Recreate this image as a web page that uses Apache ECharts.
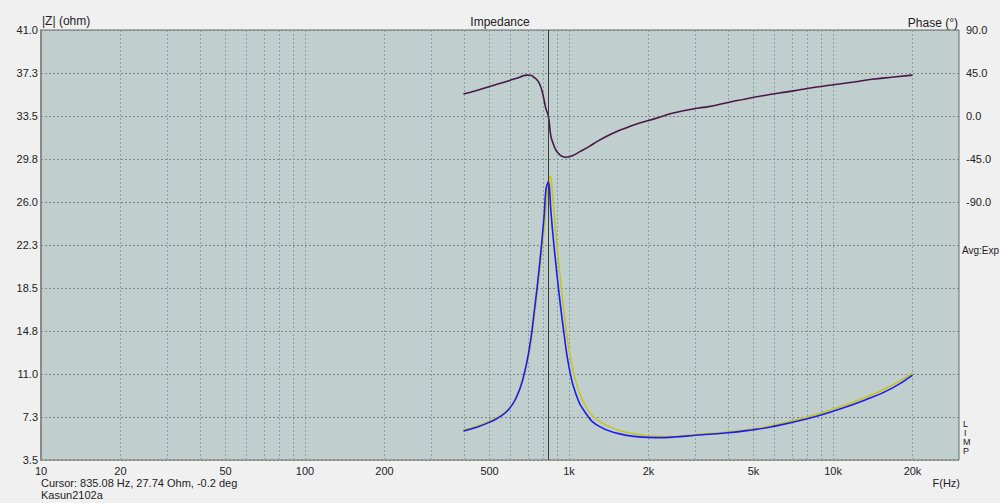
<!DOCTYPE html>
<html><head><meta charset="utf-8">
<script src="https://cdn.jsdelivr.net/npm/echarts@6/dist/echarts.min.js"></script>
<style>html,body{margin:0;padding:0;background:#f0f0f0}#c{width:1000px;height:503px}</style>
</head><body><div id="c"></div>
<script>
// ---- data ----
const phaseFreq = [398, 450, 498, 550, 593, 650, 695, 720, 737, 757, 775, 790, 804, 817, 835, 853, 872, 891, 915, 937, 972, 1029, 1100, 1190, 1280, 1377, 1480, 1591, 1839, 2100, 2458, 2843, 3100, 3381, 3850, 4392, 5500, 6792, 8200, 9886, 12000, 14030, 17000, 20000];
const phaseDeg  = [23.0, 26.9, 30.7, 34.2, 37.0, 40.6, 42.8, 42.3, 40.5, 37.7, 33.0, 26.5, 17.0, 8.0, -0.2, -20.5, -29.3, -35.6, -39.5, -41.9, -43.2, -41.5, -37.3, -32.1, -26.6, -21.7, -17.5, -13.9, -7.7, -3.0, 2.8, 6.6, 8.4, 9.8, 13.0, 16.4, 21.5, 25.5, 29.3, 32.4, 35.6, 38.4, 40.8, 42.8];

const zBlueFreq = [398, 450, 498, 550, 593, 630, 666, 706, 737, 770, 804, 817, 828, 835, 845, 853, 878, 917, 957, 1000, 1060, 1156, 1297, 1542, 1839, 2127, 2500, 3013, 3912, 4931, 5868, 7847, 9886, 13235, 16693, 20000];
const zBlue     = [6.03, 6.38, 6.78, 7.3, 7.95, 8.9, 10.4, 13.1, 16.3, 20.1, 24.7, 27.0, 27.6, 27.74, 26.9, 25.3, 22.1, 18.0, 14.55, 11.6, 9.3, 7.6, 6.45, 5.8, 5.52, 5.45, 5.5, 5.66, 5.85, 6.12, 6.4, 7.05, 7.71, 8.73, 9.75, 10.9];

const zYellowFreq = [398, 450, 498, 550, 593, 630, 666, 706, 737, 770, 804, 830, 840, 847, 856, 865, 890, 930, 970, 1015, 1075, 1170, 1300, 1542, 1839, 2127, 2500, 3013, 3912, 4931, 5868, 7847, 9886, 13235, 16693, 20000];
const zYellow     = [6.1, 6.46, 6.86, 7.36, 8.0, 8.9, 10.3, 12.8, 15.8, 19.5, 23.5, 27.2, 28.0, 28.3, 27.8, 26.8, 23.5, 19.0, 15.3, 12.3, 9.9, 8.0, 6.9, 6.1, 5.72, 5.57, 5.55, 5.72, 5.92, 6.2, 6.5, 7.2, 7.9, 8.95, 10.0, 11.1];

const zTicks = [3.5, 7.25, 11.0, 14.75, 18.5, 22.25, 26.0, 29.75, 33.5, 37.25, 41.0];
const phaseLabelMin = -90;
const xLabelFreqs = [10, 20, 50, 100, 200, 500, 1000, 2000, 5000, 10000, 20000];
const xLabelTexts = ['10', '20', '50', '100', '200', '500', '1k', '2k', '5k', '10k', '20k'];
const gridFreqs = [10,20,30,40,50,60,70,80,90,100,200,300,400,500,600,700,800,900,1000,2000,3000,4000,5000,6000,7000,8000,9000,10000,20000];
const cursorFreq = 835.08;
const fMin = 10, fMax = 30000;

// ---- chart ----
const FONT = 'Liberation Sans';
const lg = v => Math.log10(v);
const chart = echarts.init(document.getElementById('c'), null, {renderer: 'svg'});
const option = {
  animation: false,
  backgroundColor: '#f0f0f0',
  textStyle: {fontFamily: FONT},
  grid: {left: 41, right: 41, top: 30, bottom: 43, show: true, backgroundColor: '#c0cecd', borderColor: '#6a6a6a', borderWidth: 1},
  xAxis: {
    type: 'value', min: lg(fMin), max: lg(fMax),
    axisLine: {show: false},
    axisTick: {show: false, customValues: gridFreqs.map(lg)},
    axisLabel: {
      customValues: xLabelFreqs.map(lg), margin: 5, fontSize: 11, color: '#222', fontFamily: FONT,
      formatter: v => { let best = 0, d = 1e9; xLabelFreqs.forEach((f, i) => { const dd = Math.abs(lg(f) - v); if (dd < d) { d = dd; best = i; } }); return xLabelTexts[best]; }
    },
    splitLine: {show: true, lineStyle: {color: '#7da6a6', width: 1, type: [2, 2]}}
  },
  yAxis: [{
    type: 'value', min: 3.5, max: 41,
    axisLine: {show: true, lineStyle: {color: '#8a8a8a', width: 2}},
    axisTick: {show: false, customValues: zTicks},
    axisLabel: {customValues: zTicks, margin: 3, fontSize: 11, color: '#222', fontFamily: FONT, formatter: v => v.toFixed(1)},
    splitLine: {show: true, lineStyle: {color: '#7f8886', width: 1, type: [2, 2]}}
  }, {
    type: 'value', min: -360, max: 90, interval: 45, position: 'right',
    axisLine: {show: false}, axisTick: {show: false}, splitLine: {show: false},
    axisLabel: {margin: 7, fontSize: 11, color: '#222', fontFamily: FONT, formatter: v => v >= phaseLabelMin ? v.toFixed(1) : ''}
  }],
  graphic: [
    {type: 'text', left: 42, top: 15, style: {text: '|Z| (ohm)', font: '12px ' + FONT, fill: '#222'}},
    {type: 'text', x: 500, y: 22, style: {text: 'Impedance', font: '12px ' + FONT, fill: '#222', align: 'center', verticalAlign: 'middle'}},
    {type: 'text', x: 958, y: 23, style: {text: 'Phase (°)', font: '12px ' + FONT, fill: '#222', align: 'right', verticalAlign: 'middle'}},
    {type: 'text', x: 962, y: 250, style: {text: 'Avg:Exp', font: '10px ' + FONT, fill: '#222', verticalAlign: 'middle'}},
    {type: 'text', x: 963, y: 424, style: {text: 'L', font: '9px ' + FONT, fill: '#222', verticalAlign: 'middle'}},
    {type: 'text', x: 964, y: 433, style: {text: 'I', font: '9px ' + FONT, fill: '#222', verticalAlign: 'middle'}},
    {type: 'text', x: 963, y: 442, style: {text: 'M', font: '9px ' + FONT, fill: '#222', verticalAlign: 'middle'}},
    {type: 'text', x: 963, y: 451, style: {text: 'P', font: '9px ' + FONT, fill: '#222', verticalAlign: 'middle'}},
    {type: 'text', x: 41, y: 483, style: {text: 'Cursor: 835.08 Hz, 27.74 Ohm, -0.2 deg', font: '11px ' + FONT, fill: '#222', verticalAlign: 'middle'}},
    {type: 'text', x: 41, y: 495, style: {text: 'Kasun2102a', font: '11px ' + FONT, fill: '#222', verticalAlign: 'middle'}},
    {type: 'text', x: 960, y: 483, style: {text: 'F(Hz)', font: '11px ' + FONT, fill: '#222', align: 'right', verticalAlign: 'middle'}}
  ],
  series: [
    {type: 'line', name: 'Z2', data: zYellowFreq.map((f, i) => [lg(f), zYellow[i]]), showSymbol: false, smooth: 0.5,
     lineStyle: {color: '#c4c41c', width: 1.5}, itemStyle: {color: '#c4c41c'}, z: 2},
    {type: 'line', name: 'Z', data: zBlueFreq.map((f, i) => [lg(f), zBlue[i]]), showSymbol: false, smooth: 0.5,
     lineStyle: {color: '#1c1cf0', width: 1.6}, itemStyle: {color: '#1c1cf0'}, z: 3,
     markLine: {silent: true, symbol: 'none', label: {show: false}, lineStyle: {color: '#3c3c3c', width: 1, type: 'solid'}, data: [{xAxis: lg(cursorFreq)}]}},
    {type: 'line', name: 'Phase', yAxisIndex: 1, data: phaseFreq.map((f, i) => [lg(f), phaseDeg[i]]), showSymbol: false, smooth: 0.5,
     lineStyle: {color: '#4a1848', width: 1.6}, itemStyle: {color: '#4a1848'}, z: 4}
  ]
};
chart.setOption(option);
</script></body></html>
